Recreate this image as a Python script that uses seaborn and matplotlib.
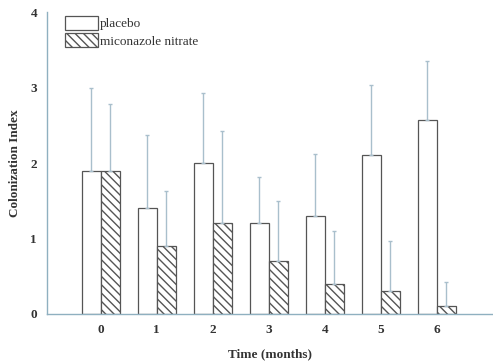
import pandas as pd
import matplotlib.pyplot as plt
import seaborn as sns

# values
months = [0, 1, 2, 3, 4, 5, 6]
placebo_mean = [1.9, 1.4, 2.0, 1.2, 1.3, 2.1, 2.57]
placebo_sd = [1.1, 0.97, 0.93, 0.62, 0.82, 0.93, 0.78]
miconazole_mean = [1.9, 0.9, 1.2, 0.7, 0.4, 0.3, 0.1]
miconazole_sd = [0.88, 0.73, 1.22, 0.8, 0.7, 0.67, 0.33]
groups = ["placebo", "miconazole nitrate"]

data = pd.DataFrame({
    "month": months * 2,
    "value": placebo_mean + miconazole_mean,
    "sd": placebo_sd + miconazole_sd,
    "group": [groups[0]] * 7 + [groups[1]] * 7,
})

sns.set_style("white")
plt.rcParams['font.family'] = ['Liberation Serif', 'DejaVu Serif']
plt.rcParams['hatch.color'] = "#555555"

fig = plt.figure(figsize=(4.93, 3.62), dpi=100)
ax = fig.add_axes([0.095, 0.1326, 0.905, 0.834])

sns.barplot(data=data, x="month", y="value", hue="group", width=0.68,
            palette=["white", "white"], edgecolor="#555555", linewidth=0.9,
            errorbar=None, ax=ax, legend=True)

hatches = ["", "\\\\\\\\"]
bar_groups = list(ax.containers)
for i, cont in enumerate(bar_groups):
    sds = data[data["group"] == groups[i]]["sd"].tolist()
    xs, tops = [], []
    for bar in cont:
        bar.set_hatch(hatches[i])
        bar.set_edgecolor("#555555")
        xs.append(bar.get_x() + bar.get_width() / 2)
        tops.append(bar.get_height())
    ax.errorbar(xs, tops, yerr=[[0] * len(sds), sds], fmt="none",
                ecolor="#a9bfcc", elinewidth=1.0, capsize=1.5, capthick=1.0,
                zorder=1)

ax.set_xlim(-0.96, 7.0)
ax.set_ylim(0, 4)
ax.set_yticks([0, 1, 2, 3, 4])
sns.despine(ax=ax)
for s in ["left", "bottom"]:
    ax.spines[s].set_color("#8fb0c0")
    ax.spines[s].set_linewidth(1.0)
ax.tick_params(axis="both", length=2, color="#8fb0c0", labelsize=9.5,
               labelcolor="#333333", pad=5)
for lab in ax.get_xticklabels() + ax.get_yticklabels():
    lab.set_fontweight("bold")

ax.set_xlabel("Time (months)", fontsize=9.5, fontweight="bold", color="#333333", labelpad=9)
ax.set_ylabel("Colonization Index", fontsize=9.5, fontweight="bold", color="#333333", labelpad=7)

handles, labels = ax.get_legend_handles_labels()
for h, hatch in zip(handles, hatches):
    h.set_hatch(hatch)
    h.set_edgecolor("#555555")
leg = ax.legend(handles, labels, loc="upper left", bbox_to_anchor=(0.025, 1.01),
                frameon=False, fontsize=9.5, handlelength=2.5, handleheight=1.3,
                handletextpad=0.15, labelspacing=0.2, borderpad=0)
for t in leg.get_texts():
    t.set_color("#333333")

fig.savefig("out.png", dpi=100)
